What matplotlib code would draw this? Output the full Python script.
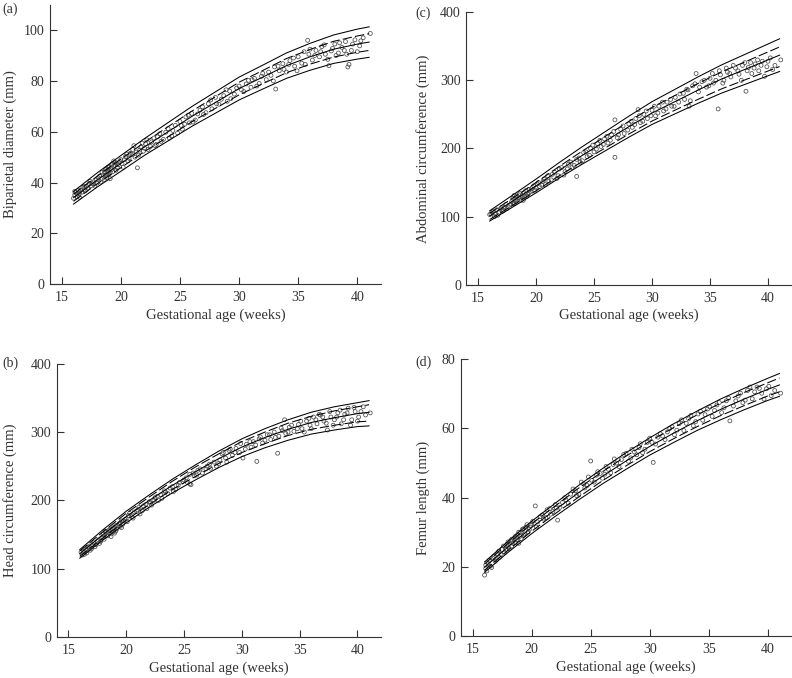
import matplotlib
matplotlib.use("Agg")
import matplotlib.pyplot as plt

plt.rcParams['font.family'] = ['Liberation Serif', 'DejaVu Serif']
plt.rcParams['font.size'] = 10

# ages at which the centile curves were read
ages = [16, 18, 20, 22, 24, 26, 28, 30, 32, 34, 36, 38, 40, 41]

# (a) biparietal diameter
bpd_p3 = [31.5, 38.2, 44.4, 50.7, 56.4, 62.1, 67.3, 72.5, 76.8, 81.0, 84.2, 86.9, 88.6, 89.3]
bpd_p10 = [32.6, 39.5, 45.8, 52.2, 58.0, 63.9, 69.2, 74.5, 78.9, 83.2, 86.6, 89.4, 91.3, 92.0]
bpd_p50 = [34.0, 41.0, 47.5, 54.0, 60.0, 66.0, 71.5, 77.0, 81.5, 86.0, 89.5, 92.5, 94.5, 95.3]
bpd_p90 = [35.4, 42.5, 49.2, 55.8, 62.0, 68.1, 73.8, 79.5, 84.1, 88.8, 92.4, 95.6, 97.7, 98.6]
bpd_p97 = [36.5, 43.8, 50.6, 57.3, 63.6, 69.9, 75.7, 81.5, 86.2, 91.0, 94.8, 98.1, 100.4, 101.3]
bpd_points = [
    (16.1, 35.2), (16.2, 36.0), (16.3, 34.5), (16.4, 36.8), (16.5, 35.8), (16.6, 37.0), (16.8, 38.1),
    (16.9, 37.2), (17.1, 38.5), (17.3, 39.6), (17.5, 38.8), (17.7, 40.3), (17.9, 41.0), (18.0, 39.8),
    (18.2, 42.5), (18.4, 41.6), (18.5, 43.0), (18.6, 44.2), (18.7, 42.8), (18.8, 45.5), (18.9, 44.0),
    (19.0, 43.2), (19.0, 46.2), (19.1, 41.5), (19.2, 45.0), (19.3, 47.4), (19.4, 46.5), (19.5, 48.0),
    (19.6, 44.8), (19.8, 47.0), (20.0, 49.0), (20.2, 46.0), (20.4, 50.2), (20.6, 48.5), (20.8, 51.5),
    (21.0, 53.0), (21.2, 50.0), (21.4, 45.8), (21.6, 52.8), (21.8, 55.5), (22.0, 53.5), (22.2, 56.8),
    (22.5, 54.2), (22.8, 57.5), (23.0, 55.0), (23.3, 59.2), (23.6, 57.0), (24.0, 61.2), (24.3, 58.3),
    (24.6, 62.5), (25.0, 64.0), (25.2, 61.0), (25.5, 65.8), (25.8, 63.5), (26.0, 67.2), (26.3, 64.6),
    (26.7, 68.5), (27.0, 66.8), (27.4, 71.0), (27.7, 69.0), (28.0, 73.5), (28.3, 70.8), (28.7, 74.2),
    (29.0, 72.0), (29.2, 76.0), (29.6, 74.8), (30.0, 78.0), (30.4, 75.8), (30.8, 80.2), (31.0, 77.5),
    (31.3, 81.0), (31.7, 79.0), (32.0, 83.0), (32.3, 80.5), (32.7, 82.2), (33.0, 85.5), (33.1, 76.8),
    (33.4, 84.0), (33.7, 86.8), (34.0, 83.5), (34.3, 88.0), (34.7, 85.8), (35.0, 89.5), (35.3, 87.0),
    (35.8, 96.0), (35.9, 90.5), (36.2, 88.2), (36.5, 92.0), (36.8, 89.5), (37.0, 93.5), (37.3, 90.5),
    (37.6, 86.0), (37.9, 92.8), (38.1, 94.5), (38.4, 91.0), (38.7, 93.2), (39.0, 95.5), (39.2, 85.5),
    (39.3, 86.5), (39.5, 92.0), (39.8, 96.2), (40.2, 93.8), (40.5, 97.0), (41.1, 98.7),
    (16.0, 33.8), (16.1, 36.5), (16.3, 35.5), (16.5, 34.2), (16.7, 36.2), (16.9, 38.5), (17.0, 36.8),
    (17.2, 37.8), (17.4, 40.5), (17.6, 39.5), (17.8, 38.6), (18.1, 41.8), (18.3, 40.2), (18.4, 44.0),
    (18.6, 41.2), (18.7, 45.2), (18.8, 43.0), (18.8, 42.0), (18.9, 46.0), (18.9, 44.8), (19.0, 45.0),
    (19.1, 43.8), (19.2, 47.0), (19.3, 44.2), (19.4, 48.5), (19.5, 46.8), (19.6, 47.6), (19.7, 45.8),
    (19.9, 48.2), (20.1, 47.5), (20.3, 49.0), (20.5, 51.2), (20.7, 49.5), (21.0, 51.0), (21.1, 54.5),
    (21.3, 52.0), (21.5, 50.8), (21.7, 54.0), (21.9, 52.3), (22.1, 55.2), (22.3, 53.0), (22.6, 56.0),
    (22.9, 54.5), (23.1, 58.0), (23.4, 56.2), (23.8, 59.8), (24.1, 57.5), (24.4, 60.5), (24.8, 59.5),
    (25.1, 62.5), (25.4, 63.0), (25.7, 66.5), (26.1, 63.8), (26.5, 67.0), (26.9, 69.8), (27.2, 67.5),
    (27.6, 72.5), (28.1, 71.0), (28.5, 72.8), (28.9, 76.5), (29.3, 73.0), (29.8, 77.2), (30.2, 76.5),
    (30.6, 78.8), (31.1, 80.5), (31.5, 78.0), (31.9, 81.8), (32.5, 83.5), (32.9, 80.0), (33.3, 85.8),
    (33.8, 84.5), (34.2, 86.5), (34.6, 89.0), (34.9, 84.0), (35.5, 91.5), (35.6, 86.5), (36.0, 92.5),
    (36.4, 90.0), (36.9, 91.5), (37.2, 94.2), (37.5, 88.5), (37.8, 91.8), (38.2, 90.0), (38.5, 95.0),
    (38.9, 92.0), (39.1, 90.5), (39.6, 94.5), (40.0, 91.5), (40.3, 95.8),
]

# (b) head circumference
hc_p3 = [115.5, 142, 167, 190, 211, 230, 248, 264, 277, 288, 297, 303, 308, 309]
hc_p10 = [118, 145, 171, 194, 216, 235, 254, 270, 283, 295, 304, 310, 315, 316]
hc_p50 = [122, 150, 176, 200, 222, 242, 261, 278, 292, 304, 314, 321, 327, 329]
hc_p90 = [126, 154, 181, 205, 228, 249, 268, 286, 300, 313, 323, 331, 337, 340]
hc_p97 = [128, 157, 184, 208, 231, 252, 272, 290, 305, 318, 329, 337, 343, 346]
hc_points = [
    (16.2, 120), (16.3, 125), (16.5, 128), (16.6, 123), (16.7, 131), (16.9, 127), (17.1, 135),
    (17.3, 132), (17.5, 140), (17.7, 137), (17.9, 145), (18.0, 150), (18.1, 143), (18.3, 153),
    (18.4, 148), (18.5, 156), (18.7, 151), (18.8, 158), (18.9, 154), (19.0, 160), (19.1, 155),
    (19.3, 163), (19.5, 167), (19.6, 160), (19.8, 170), (20.0, 173), (20.2, 178), (20.5, 176),
    (20.7, 183), (21.0, 186), (21.2, 180), (21.5, 192), (21.8, 188), (22.0, 198), (22.2, 193),
    (22.5, 204), (22.8, 200), (23.0, 208), (23.3, 214), (23.6, 210), (24.0, 220), (24.3, 216),
    (24.6, 226), (25.0, 230), (25.3, 226), (25.5, 238), (25.6, 223), (25.9, 236), (26.2, 244),
    (26.6, 240), (27.0, 250), (27.3, 247), (27.6, 256), (28.0, 254), (28.3, 268), (28.6, 262),
    (28.9, 273), (29.2, 266), (29.5, 276), (29.8, 270), (30.1, 262), (30.4, 282), (30.8, 278),
    (31.0, 286), (31.3, 257), (31.5, 290), (31.8, 284), (32.2, 296), (32.5, 289), (32.8, 300),
    (33.1, 269), (33.2, 294), (33.5, 302), (33.8, 298), (34.1, 307), (34.5, 301), (34.9, 311),
    (35.2, 305), (35.6, 316), (35.9, 310), (36.2, 322), (36.5, 312), (36.8, 325), (37.1, 316),
    (37.4, 303), (37.7, 322), (38.0, 318), (38.3, 328), (38.6, 312), (38.9, 326), (39.2, 335),
    (39.5, 318), (39.8, 330), (40.1, 322), (40.5, 337), (41.1, 328),
    (16.1, 124), (16.4, 121), (16.6, 127), (16.8, 133), (17.0, 129), (17.2, 138), (17.4, 135),
    (17.6, 142), (17.8, 140), (18.0, 146), (18.2, 155), (18.3, 149), (18.5, 152), (18.6, 158),
    (18.7, 147), (18.9, 160), (19.0, 152), (19.1, 163), (19.2, 158), (19.4, 166), (19.5, 162),
    (19.6, 170), (19.7, 165), (19.9, 172), (20.1, 169), (20.3, 181), (20.6, 174), (20.9, 184),
    (21.1, 190), (21.4, 185), (21.7, 194), (22.1, 196), (22.4, 200), (22.7, 206), (23.1, 203),
    (23.4, 212), (23.8, 218), (24.1, 213), (24.5, 222), (24.9, 228), (25.2, 233), (25.5, 224),
    (25.8, 240), (26.1, 237), (26.4, 246), (26.9, 246), (27.2, 253), (27.8, 250), (28.1, 259),
    (28.4, 270), (28.7, 256), (29.0, 275), (29.4, 270), (29.9, 283), (30.3, 275), (30.7, 286),
    (31.2, 281), (31.6, 293), (32.0, 288), (32.4, 296), (32.9, 292), (33.4, 306), (33.7, 318),
    (34.0, 300), (34.3, 310), (34.8, 305), (35.1, 316), (35.4, 300), (35.8, 320), (36.0, 305),
    (36.4, 318), (36.7, 326), (37.0, 322), (37.3, 313), (37.6, 330), (37.9, 310), (38.2, 322),
    (38.5, 332), (38.8, 318), (39.1, 328), (39.4, 310), (39.7, 336), (40.0, 316), (40.3, 330),
    (40.7, 325),
]

# (c) abdominal circumference
ac_p3 = [93.5, 114.2, 134.9, 156.6, 177.2, 196.9, 216.6, 235.3, 251.0, 266.6, 281.3, 294.0, 306.7, 313.0]
ac_p10 = [95.8, 116.8, 137.9, 160.0, 181.0, 201.1, 221.2, 240.3, 256.4, 272.4, 287.5, 300.6, 313.7, 320.2]
ac_p50 = [101, 123, 145, 168, 190, 211, 232, 252, 269, 286, 302, 316, 330, 337]
ac_p90 = [104.8, 127.4, 150.1, 173.7, 196.4, 218.1, 239.7, 260.4, 278.0, 295.7, 312.4, 327.0, 341.7, 349.0]
ac_p97 = [108.5, 131.8, 155.1, 179.4, 202.8, 225.1, 247.4, 268.7, 287.0, 305.4, 322.7, 338.0, 353.3, 361.0]
ac_points = [
    (16.1, 104), (16.2, 107), (16.4, 100), (16.6, 110), (16.8, 106), (17.0, 113), (17.2, 109),
    (17.4, 118), (17.6, 115), (17.9, 122), (18.0, 127), (18.1, 119), (18.3, 130), (18.4, 125),
    (18.5, 132), (18.6, 127), (18.8, 128), (18.9, 124), (19.0, 135), (19.2, 130), (19.4, 140),
    (19.5, 137), (19.7, 143), (19.9, 139), (20.1, 148), (20.3, 144), (20.6, 152), (20.8, 147),
    (21.0, 160), (21.3, 154), (21.6, 165), (21.9, 160), (22.2, 172), (22.5, 166), (22.8, 177),
    (23.1, 172), (23.5, 159), (23.5, 184), (23.8, 180), (24.1, 194), (24.4, 188), (24.7, 200),
    (25.0, 195), (25.3, 207), (25.6, 203), (25.9, 214), (26.2, 208), (26.5, 220), (26.8, 187),
    (26.8, 242), (27.0, 216), (27.3, 228), (27.6, 222), (28.0, 236), (28.3, 231), (28.6, 244),
    (28.8, 257), (29.0, 238), (29.3, 250), (29.6, 244), (30.0, 256), (30.3, 248), (30.6, 262),
    (31.0, 255), (31.3, 268), (31.7, 262), (32.0, 275), (32.3, 268), (32.7, 281), (33.0, 287),
    (33.2, 262), (33.5, 292), (33.8, 310), (34.0, 283), (34.3, 298), (34.7, 290), (35.0, 303),
    (35.3, 296), (35.7, 258), (35.9, 308), (36.2, 300), (36.5, 312), (36.8, 305), (37.2, 318),
    (37.5, 309), (37.8, 322), (38.1, 284), (38.2, 314), (38.5, 326), (38.8, 318), (39.1, 330),
    (39.4, 322), (39.7, 306), (40.0, 328), (40.4, 316), (41.1, 330),
    (16.0, 103), (16.3, 108), (16.5, 104), (16.7, 102), (16.9, 111), (17.1, 108), (17.3, 114),
    (17.5, 112), (17.8, 118), (18.0, 120), (18.1, 131), (18.2, 125), (18.3, 122), (18.5, 128),
    (18.6, 134), (18.7, 124), (18.8, 131), (19.0, 129), (19.1, 138), (19.3, 133), (19.4, 135),
    (19.6, 141), (19.8, 145), (20.0, 142), (20.2, 150), (20.5, 146), (20.7, 155), (21.1, 152),
    (21.4, 162), (21.8, 156), (22.0, 170), (22.4, 161), (22.7, 170), (23.0, 180), (23.3, 175),
    (23.7, 186), (24.0, 182), (24.3, 195), (24.6, 190), (24.9, 205), (25.2, 199), (25.5, 212),
    (25.8, 206), (26.1, 218), (26.4, 212), (26.7, 225), (27.1, 220), (27.5, 233), (27.9, 227),
    (28.2, 240), (28.5, 235), (28.9, 248), (29.2, 240), (29.5, 255), (29.9, 248), (30.2, 262),
    (30.5, 252), (30.9, 268), (31.2, 258), (31.6, 272), (31.9, 262), (32.4, 280), (32.8, 272),
    (33.1, 286), (33.3, 270), (33.7, 295), (34.1, 290), (34.5, 300), (34.9, 292), (35.2, 310),
    (35.5, 300), (35.8, 314), (36.1, 296), (36.4, 318), (36.7, 310), (37.0, 322), (37.4, 314),
    (37.7, 300), (38.0, 326), (38.3, 319), (38.6, 310), (38.9, 324), (39.2, 314), (39.5, 328),
    (39.9, 320), (40.2, 333), (40.6, 322),
]

# (d) femur length
fl_p3 = [18.4, 24.2, 29.6, 34.6, 39.4, 44.0, 48.2, 52.3, 55.9, 59.4, 62.5, 65.4, 68.1, 69.3]
fl_p10 = [19.0, 24.8, 30.3, 35.4, 40.2, 44.9, 49.2, 53.3, 57.0, 60.5, 63.7, 66.6, 69.4, 70.6]
fl_p50 = [19.9, 25.8, 31.4, 36.5, 41.5, 46.2, 50.6, 54.8, 58.6, 62.2, 65.5, 68.5, 71.3, 72.6]
fl_p90 = [20.8, 26.8, 32.5, 37.6, 42.8, 47.5, 52.0, 56.3, 60.2, 63.9, 67.3, 70.4, 73.2, 74.6]
fl_p97 = [21.4, 27.4, 33.2, 38.4, 43.6, 48.4, 53.0, 57.3, 61.3, 65.0, 68.5, 71.6, 74.5, 75.9]
fl_points = [
    (16.0, 17.6), (16.1, 19.5), (16.3, 21.0), (16.5, 20.2), (16.7, 22.5), (16.9, 21.6), (17.1, 23.8),
    (17.3, 22.8), (17.5, 25.0), (17.7, 24.2), (17.9, 26.5), (18.0, 25.8), (18.2, 27.5), (18.3, 26.0),
    (18.5, 28.2), (18.6, 27.0), (18.8, 29.3), (18.9, 26.8), (19.0, 30.0), (19.1, 28.2), (19.3, 31.0),
    (19.4, 29.5), (19.6, 32.2), (19.8, 30.8), (20.0, 32.5), (20.3, 37.6), (20.4, 31.5), (20.7, 34.5),
    (21.0, 33.8), (21.3, 36.5), (21.6, 35.2), (22.0, 38.0), (22.2, 33.5), (22.4, 37.2), (22.8, 40.0),
    (23.1, 38.4), (23.5, 42.5), (23.8, 40.6), (24.2, 44.5), (24.5, 42.8), (24.8, 46.0), (25.0, 50.6),
    (25.3, 44.5), (25.6, 47.5), (26.0, 45.6), (26.3, 49.0), (26.7, 47.2), (27.0, 51.2), (27.4, 49.0),
    (27.8, 52.5), (28.2, 50.5), (28.5, 54.0), (28.9, 52.4), (29.2, 55.6), (29.6, 54.0), (30.0, 57.2),
    (30.3, 50.2), (30.5, 55.5), (30.9, 58.5), (31.3, 56.8), (31.7, 60.0), (32.1, 58.2), (32.5, 61.4),
    (32.9, 59.4), (33.3, 62.8), (33.7, 60.8), (34.1, 64.2), (34.5, 62.4), (34.9, 65.6), (35.3, 63.5),
    (35.7, 66.8), (36.1, 64.6), (36.5, 68.0), (36.8, 62.2), (37.1, 66.5), (37.5, 69.4), (37.9, 67.5),
    (38.3, 71.0), (38.7, 68.6), (39.1, 72.0), (39.5, 70.2), (39.9, 71.5), (40.3, 69.5), (41.1, 70.2),
    (16.1, 20.5), (16.2, 18.8), (16.4, 21.8), (16.6, 19.8), (16.8, 23.0), (17.0, 22.0), (17.2, 24.5),
    (17.4, 23.5), (17.6, 26.0), (17.8, 25.0), (18.0, 27.2), (18.1, 25.2), (18.3, 28.0), (18.4, 26.8),
    (18.6, 28.8), (18.7, 27.8), (18.9, 30.0), (19.0, 28.8), (19.2, 30.8), (19.3, 29.2), (19.5, 31.5),
    (19.7, 30.2), (19.9, 32.0), (20.1, 33.2), (20.5, 33.0), (20.9, 35.0), (21.2, 34.2), (21.5, 36.8),
    (21.8, 36.0), (22.1, 37.0), (22.6, 38.6), (22.9, 39.4), (23.3, 41.0), (23.7, 42.0), (24.0, 41.0),
    (24.4, 44.0), (24.7, 43.5), (25.1, 45.0), (25.5, 46.5), (25.8, 47.0), (26.2, 46.8), (26.5, 48.2),
    (26.9, 49.6), (27.2, 50.0), (27.6, 51.0), (28.0, 52.8), (28.4, 51.5), (28.7, 53.2), (29.1, 54.5),
    (29.4, 53.0), (29.8, 56.0), (30.2, 56.0), (30.7, 57.5), (31.1, 57.8), (31.5, 59.0), (31.9, 60.5),
    (32.3, 59.5), (32.7, 62.5), (33.1, 61.5), (33.5, 63.8), (33.9, 62.0), (34.3, 65.0), (34.7, 64.0),
    (35.1, 66.2), (35.5, 65.2), (35.9, 67.5), (36.3, 66.0), (36.7, 68.8), (37.3, 68.0), (37.7, 70.2),
    (38.1, 68.2), (38.5, 72.0), (38.9, 70.6), (39.3, 71.6), (39.7, 68.5), (40.1, 72.2), (40.6, 71.0),
]

# tag, axes rect, tag position (fig px), ylabel centre x (fig px), points, curves, ylim, yticks, ylabel
panels = [
    ("(a)", [0.063, 0.581, 0.418, 0.412], (2, 9), 10, bpd_points,
     [bpd_p3, bpd_p10, bpd_p50, bpd_p90, bpd_p97], (0, 110), range(0, 101, 20),
     "Biparietal diameter (mm)"),
    ("(c)", [0.589, 0.580, 0.410, 0.402], (415, 13), 423, ac_points,
     [ac_p3, ac_p10, ac_p50, ac_p90, ac_p97], (0, 400), range(0, 401, 100),
     "Abdominal circumference (mm)"),
    ("(b)", [0.0716, 0.0605, 0.409, 0.403], (2, 363), 10, hc_points,
     [hc_p3, hc_p10, hc_p50, hc_p90, hc_p97], (0, 400), range(0, 401, 100),
     "Head circumference (mm)"),
    ("(d)", [0.582, 0.062, 0.417, 0.408], (415, 362), 423, fl_points,
     [fl_p3, fl_p10, fl_p50, fl_p90, fl_p97], (0, 80), range(0, 81, 20),
     "Femur length (mm)"),
]

styles = ['-', (0, (9, 3)), '-', (0, (9, 3)), '-']
ink = '#333333'
W, H = 792, 678

fig = plt.figure(figsize=(W / 100, H / 100), dpi=100)
for tag, rect, tagpos, ylx, pts, curves, ylim, yticks, ylabel in panels:
    ax = fig.add_axes(rect)
    xs = [p[0] for p in pts]
    ys = [p[1] for p in pts]
    ax.scatter(xs, ys, s=8, facecolors='none', edgecolors='#4d4d4d', linewidths=0.55, zorder=2)
    for c, ls in zip(curves, styles):
        ax.plot(ages, c, color='black', lw=0.75, linestyle=ls, zorder=3)
    ax.set_xlim(14, 42)
    ax.set_ylim(*ylim)
    ax.set_xticks([15, 20, 25, 30, 35, 40])
    ax.set_yticks(list(yticks))
    ax.spines['top'].set_visible(False)
    ax.spines['right'].set_visible(False)
    for s in ('left', 'bottom'):
        ax.spines[s].set_linewidth(0.8)
        ax.spines[s].set_color(ink)
    ax.tick_params(direction='in', length=5, width=0.8, colors=ink, labelsize=10)
    ax.tick_params(axis='x', pad=5)
    ax.tick_params(axis='y', pad=4)
    ax.set_xlabel("Gestational age (weeks)", fontsize=10.5, color=ink, labelpad=3)
    ax.set_ylabel(ylabel, fontsize=10.5, color=ink, va='center')
    ax.yaxis.set_label_coords((ylx / W - rect[0]) / rect[2], 0.5)
    fig.text(tagpos[0] / W, 1 - tagpos[1] / H, tag, fontsize=10, color=ink,
             ha='left', va='center')

fig.savefig("out.png", dpi=100)
